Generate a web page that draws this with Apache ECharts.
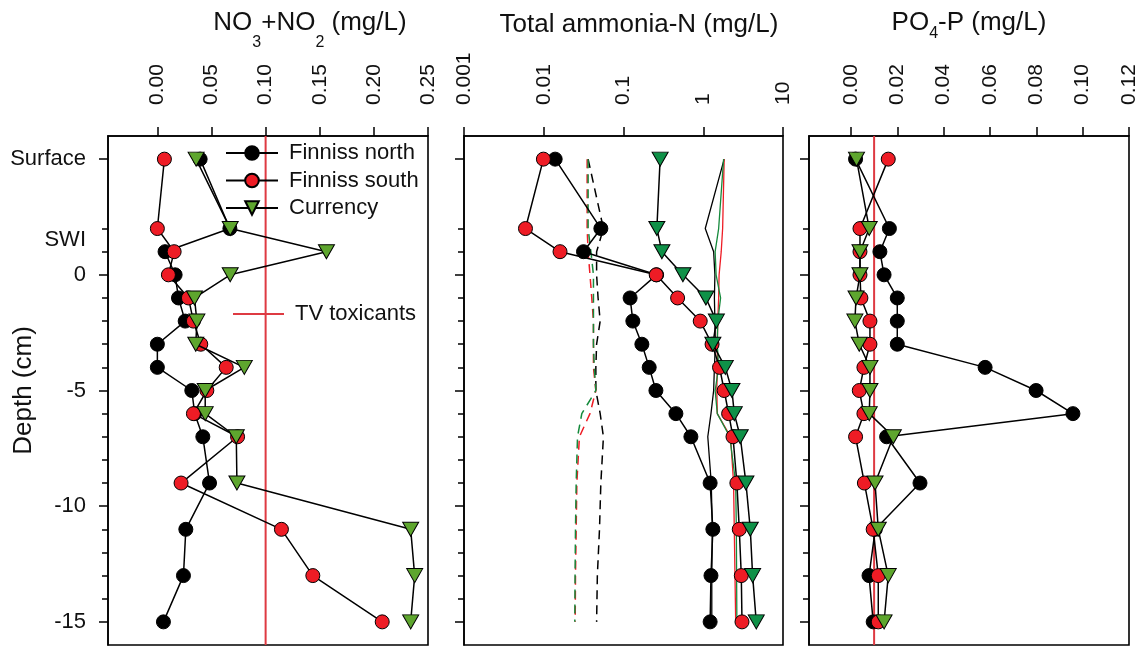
<!DOCTYPE html>
<html>
<head>
<meta charset="utf-8">
<script src="https://cdn.jsdelivr.net/npm/echarts@6/dist/echarts.min.js"></script>
<style>
html, body { margin: 0; padding: 0; background: #fff; }
#chart { width: 1143px; height: 646px; }
</style>
</head>
<body>
<div id="chart"></div>
<script>
// Sampling depths (cm); positive values sit in the overlying water column
const depths = [5, 2, 1, 0, -1, -2, -3, -4, -5, -6, -7, -9, -11, -13, -15];

// NO3+NO2 (mg/L)
const noxNorth    = [0.0395, 0.0670, 0.0071, 0.0164, 0.0195, 0.0257, 0.0, 0.0, 0.0318, 0.0345, 0.0420, 0.0482, 0.0263, 0.0241, 0.0056];
const noxSouth    = [0.0065, 0.0, 0.0155, 0.0102, 0.0287, 0.0333, 0.0401, 0.0636, 0.0457, 0.0333, 0.0741, 0.0219, 0.1146, 0.1436, 0.2077];
const noxCurrency = [0.0358, 0.0673, 0.1562, 0.0673, 0.0343, 0.0365, 0.0355, 0.0803, 0.0442, 0.0442, 0.0729, 0.0735, 0.2340, 0.2377, 0.2340];
const noxTrigger = 0.10;

// Total ammonia-N (mg/L)
const nh3North    = [0.0139, 0.052, 0.0315, 0.26, 0.121, 0.131, 0.17, 0.21, 0.255, 0.454, 0.70, 1.22, 1.32, 1.25, 1.22];
const nh3South    = [0.0099, 0.0059, 0.016, 0.257, 0.477, 0.916, 1.29, 1.60, 1.83, 2.08, 2.36, 2.64, 2.83, 3.0, 3.06];
const nh3Currency = [0.288, 0.262, 0.303, 0.556, 1.08, 1.46, 1.32, 1.89, 2.29, 2.45, 2.91, 3.43, 3.89, 4.16, 4.62];
// Site reference profiles for ammonia (solid and dashed traces)
const nh3SolidNorth    = [1.83, 1.06, 1.35, 1.40, 1.38, 1.40, 1.42, 1.38, 1.35, 1.25, 1.14, 1.26, 1.30, 1.28, 1.28];
const nh3SolidSouth    = [1.83, 1.75, 1.68, 1.58, 1.56, 1.52, 1.50, 1.50, 1.48, 1.50, 2.20, 2.40, 2.45, 2.50, 2.55];
const nh3SolidCurrency = [1.80, 1.56, 1.41, 1.45, 1.65, 1.52, 1.50, 1.56, 1.41, 1.50, 2.15, 2.55, 2.60, 2.62, 2.64];
const nh3DashNorth    = [0.036, 0.056, 0.046, 0.046, 0.048, 0.051, 0.046, 0.045, 0.045, 0.051, 0.056, 0.052, 0.050, 0.047, 0.046];
const nh3DashSouth    = [0.035, 0.035, 0.036, 0.038, 0.040, 0.042, 0.042, 0.042, 0.045, 0.038, 0.028, 0.026, 0.0255, 0.025, 0.0248];
const nh3DashCurrency = [0.036, 0.036, 0.039, 0.042, 0.042, 0.042, 0.042, 0.043, 0.045, 0.030, 0.0265, 0.0255, 0.025, 0.0247, 0.0245];

// PO4-P (mg/L)
const po4North    = [0.0020, 0.0166, 0.0125, 0.0143, 0.0200, 0.0200, 0.0200, 0.0579, 0.0799, 0.0958, 0.0154, 0.0298, 0.0105, 0.0078, 0.0096];
const po4South    = [0.0161, 0.0039, 0.0039, 0.0039, 0.0043, 0.0082, 0.0082, 0.0056, 0.0036, 0.0056, 0.0020, 0.0058, 0.0096, 0.0118, 0.0118];
const po4Currency = [0.0024, 0.0079, 0.0039, 0.0039, 0.0022, 0.0017, 0.0036, 0.0082, 0.0082, 0.0079, 0.0183, 0.0104, 0.0118, 0.0161, 0.0143];
const po4Trigger = 0.01;

// Axis ticks and labels
const depthRange = [-16, 6];
const depthLabelValues = [5, 1.5, 0, -5, -10, -15];
const depthTickLabels = ['Surface', 'SWI', '0', '-5', '-10', '-15'];
const depthMajorTicks = [5, 0, -5, -10, -15];
const depthMinorTicks = [2, 1, -1, -2, -3, -4, -6, -7, -8, -9, -11, -12, -13, -14];
const noxTicks = [0, 0.05, 0.10, 0.15, 0.20, 0.25];
const nh3Ticks = [0.001, 0.01, 0.1, 1, 10];
const nh3TickLabels = ['0.001', '0.01', '0.1', '1', '10'];
const po4Ticks = [0, 0.02, 0.04, 0.06, 0.08, 0.10, 0.12];

const FONT = "'Liberation Sans', Arial, sans-serif";
const INK = '#000';
const TEXT = '#111';
const RED = '#ee1c25';
const GREEN_LIGHT = '#5ea62e';
const GREEN_DARK = '#0f9148';
const TV_RED = '#de3a42';

const pair = vals => vals.map((v, i) => [v, depths[i]]);

const grids = [
  { left: 108, top: 136, width: 320, height: 509 },
  { left: 464, top: 136, width: 319, height: 509 },
  { left: 809, top: 136, width: 320, height: 509 }
].map(g => Object.assign(g, {
  show: true, borderColor: INK, borderWidth: 1.6, backgroundColor: 'transparent',
  containLabel: false, outerBoundsMode: 'none'
}));

const tickStyle = { color: INK, width: 1.5 };
const topLabel = { rotate: -90, margin: 31, fontSize: 21, color: TEXT, fontFamily: FONT };

const xAxes = [
  {
    gridIndex: 0, position: 'top', type: 'value', min: -0.0456, max: 0.25,
    axisLine: { show: true, onZero: false, lineStyle: tickStyle },
    axisTick: { show: true, inside: false, length: 9, customValues: noxTicks, lineStyle: tickStyle },
    axisLabel: Object.assign({ customValues: noxTicks, formatter: v => v.toFixed(2) }, topLabel),
    splitLine: { show: false }
  },
  {
    gridIndex: 1, position: 'top', type: 'log', logBase: 10,
    min: nh3Ticks[0], max: nh3Ticks[nh3Ticks.length - 1],
    axisLine: { show: true, onZero: false, lineStyle: tickStyle },
    axisTick: { show: true, inside: false, length: 9, lineStyle: tickStyle },
    axisLabel: Object.assign({
      formatter: v => {
        const k = nh3Ticks.findIndex(t => Math.abs(Math.log10(t) - Math.log10(v)) < 1e-6);
        return k >= 0 ? nh3TickLabels[k] : '';
      }
    }, topLabel),
    splitLine: { show: false }
  },
  {
    gridIndex: 2, position: 'top', type: 'value', min: -0.0181, max: 0.12,
    axisLine: { show: true, onZero: false, lineStyle: tickStyle },
    axisTick: { show: true, inside: false, length: 9, customValues: po4Ticks, lineStyle: tickStyle },
    axisLabel: Object.assign({ customValues: po4Ticks, formatter: v => v.toFixed(2) }, topLabel),
    splitLine: { show: false }
  }
];

const yAxes = [];
for (let i = 0; i < 3; i++) {
  yAxes.push({
    type: 'value', gridIndex: i, position: 'left',
    min: depthRange[0], max: depthRange[1],
    axisLine: { show: true, onZero: false, lineStyle: tickStyle },
    axisTick: { show: true, inside: false, length: 9, customValues: depthMajorTicks, lineStyle: tickStyle },
    axisLabel: i === 0 ? {
      show: true, margin: 22, fontSize: 22, color: TEXT, fontFamily: FONT,
      customValues: depthLabelValues,
      formatter: v => depthTickLabels[depthLabelValues.indexOf(v)] || ''
    } : { show: false },
    splitLine: { show: false },
    name: i === 0 ? 'Depth (cm)' : '',
    nameLocation: 'middle', nameGap: 71, nameMoveOverlap: false,
    nameTextStyle: { fontSize: 26, color: TEXT, fontFamily: FONT }
  });
  yAxes.push({
    type: 'value', gridIndex: i, position: 'left',
    min: depthRange[0], max: depthRange[1],
    axisLine: { show: false, onZero: false },
    axisTick: { show: true, inside: false, length: 6, customValues: depthMinorTicks, lineStyle: tickStyle },
    axisLabel: { show: false },
    splitLine: { show: false }
  });
}

function siteSeries(name, vals, gi, kind, green) {
  const s = {
    name, type: 'line', xAxisIndex: gi, yAxisIndex: gi * 2,
    data: pair(vals),
    lineStyle: { color: INK, width: 1.5 },
    z: 5
  };
  if (kind === 'north') {
    Object.assign(s, { symbol: 'circle', symbolSize: 14, itemStyle: { color: INK, borderColor: INK, borderWidth: 1 } });
  } else if (kind === 'south') {
    Object.assign(s, { symbol: 'circle', symbolSize: 14, itemStyle: { color: RED, borderColor: INK, borderWidth: 1 }, z: 6 });
  } else {
    Object.assign(s, { symbol: 'triangle', symbolRotate: 180, symbolSize: [16, 14], itemStyle: { color: green, borderColor: INK, borderWidth: 1 }, z: 7 });
  }
  return s;
}

function refSeries(name, vals, color, dashed) {
  return {
    name, type: 'line', xAxisIndex: 1, yAxisIndex: 2,
    data: pair(vals), symbol: 'none', silent: true, z: 3,
    lineStyle: dashed ? { color, width: 1.5, type: [9, 6] } : { color, width: 1.3 }
  };
}

function triggerSeries(value, gi) {
  return {
    name: 'TV toxicants', type: 'line', xAxisIndex: gi, yAxisIndex: gi * 2,
    data: [[value, depthRange[1]], [value, depthRange[0]]],
    symbol: 'none', silent: true, z: 2,
    itemStyle: { color: 'rgba(0,0,0,0)' },
    lineStyle: { color: TV_RED, width: 2 }
  };
}

const series = [
  triggerSeries(noxTrigger, 0),
  siteSeries('Finniss north', noxNorth, 0, 'north'),
  siteSeries('Finniss south', noxSouth, 0, 'south'),
  siteSeries('Currency', noxCurrency, 0, 'currency', GREEN_LIGHT),

  refSeries('Finniss north solid', nh3SolidNorth, INK, false),
  refSeries('Finniss south solid', nh3SolidSouth, RED, false),
  refSeries('Currency solid', nh3SolidCurrency, '#158a3c', false),
  refSeries('Finniss north dashed', nh3DashNorth, INK, true),
  refSeries('Finniss south dashed', nh3DashSouth, RED, true),
  refSeries('Currency dashed', nh3DashCurrency, '#158a3c', true),
  siteSeries('Finniss north', nh3North, 1, 'north'),
  siteSeries('Finniss south', nh3South, 1, 'south'),
  siteSeries('Currency', nh3Currency, 1, 'currency', GREEN_DARK),

  triggerSeries(po4Trigger, 2),
  siteSeries('Finniss north', po4North, 2, 'north'),
  siteSeries('Finniss south', po4South, 2, 'south'),
  siteSeries('Currency', po4Currency, 2, 'currency', GREEN_LIGHT)
];

const mainStyle = { fontSize: 26, lineHeight: 30, fontWeight: 'normal', fontFamily: FONT, color: TEXT, verticalAlign: 'top' };
const subStyle = drop => ({ fontSize: 16, lineHeight: 16, fontWeight: 'normal', fontFamily: FONT, color: TEXT, verticalAlign: 'top', padding: [drop, 0, 0, 0] });

const titles = [
  { text: '{m|NO}{s|3}{m|+NO}{s|2}{m| (mg/L)}', left: 310, top: 10, textAlign: 'center', padding: 0,
    textStyle: { fontWeight: 'normal', rich: { m: mainStyle, s: subStyle(25) } } },
  { text: 'Total ammonia-N (mg/L)', left: 639, top: 10, textAlign: 'center', padding: 0,
    textStyle: { fontSize: 26, lineHeight: 30, fontWeight: 'normal', fontFamily: FONT, color: TEXT } },
  { text: '{m|PO}{s|4}{m|-P (mg/L)}', left: 969, top: 10, textAlign: 'center', padding: 0,
    textStyle: { fontWeight: 'normal', rich: { m: mainStyle, s: subStyle(16) } } }
];

const legendText = { fontSize: 22, fontFamily: FONT, color: TEXT, padding: [0, 0, 0, 6] };

const option = {
  animation: false,
  backgroundColor: '#fff',
  title: titles,
  legend: [
    { data: ['Finniss north', 'Finniss south', 'Currency'], orient: 'vertical', left: 225, top: 142,
      itemWidth: 52, itemHeight: 17, itemGap: 5.5, padding: 0, selectedMode: false, textStyle: legendText },
    { data: ['TV toxicants'], orient: 'vertical', left: 232, top: 303,
      itemWidth: 51, itemHeight: 17, padding: 0, selectedMode: false, textStyle: legendText }
  ],
  grid: grids,
  xAxis: xAxes,
  yAxis: yAxes,
  series
};

const chart = echarts.init(document.getElementById('chart'), null, { renderer: 'canvas' });
chart.setOption(option);
</script>
</body>
</html>
